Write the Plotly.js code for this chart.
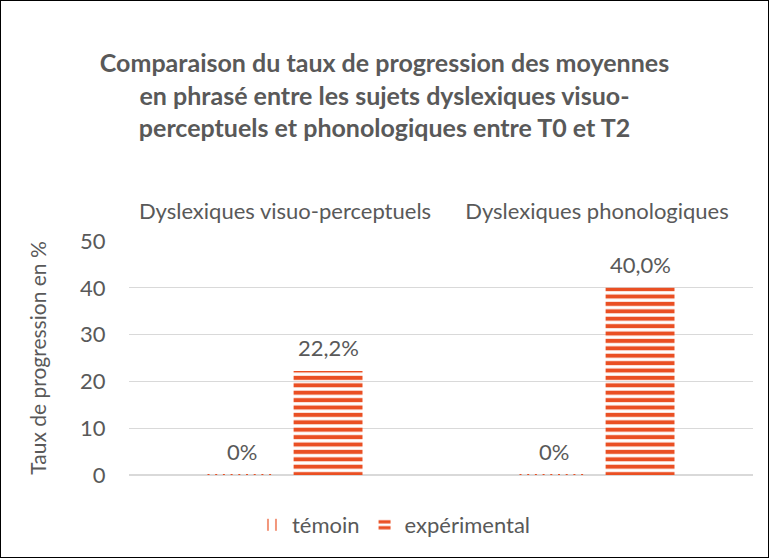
<!DOCTYPE html>
<html>
<head>
<meta charset="utf-8">
<script src="https://cdn.plot.ly/plotly-3.0.1.min.js"></script>
<style>
  html, body { margin: 0; padding: 0; background: #fff; }
  #frame { width: 769px; height: 558px; box-sizing: border-box; border: 1px solid #000; }
  #chart { width: 767px; height: 556px; }
</style>
</head>
<body>
<div id="frame"><div id="chart"></div></div>
<script>
// Groups shown along the top axis
const groups = ['Dyslexiques visuo-perceptuels', 'Dyslexiques phonologiques'];
// Series
const seriesNames = ['témoin', 'expérimental'];
const temoin = [0, 0];
const experimental = [22.2, 40.0];
// Value axis ticks
const yTicks = [0, 10, 20, 30, 40, 50];

const ORANGE = '#EA4F23';
const GREY = '#595959';
const FONT = 'Lato, "Open Sans", sans-serif';
const FS = 22;

// Bar geometry (category units)
const BARGAP = 0.448;
const BARGROUPGAP = 0.2;
const slot = (1 - BARGAP) / 2;
const barWidth = slot * (1 - BARGROUPGAP);
const offsets = [-slot / 2, slot / 2];

const fmt = v => v === 0 ? '0%' : v.toFixed(1).replace('.', ',') + '%';

const traces = [
  {
    type: 'bar', name: seriesNames[0], x: groups, y: temoin,
    marker: { color: ORANGE, pattern: { shape: '|', size: 20, solidity: 0.15 } },
    hoverinfo: 'skip'
  },
  {
    type: 'bar', name: seriesNames[1], x: groups, y: experimental,
    marker: { color: ORANGE, pattern: { shape: '-', size: 7.4, solidity: 0.55 } },
    hoverinfo: 'skip'
  }
];

// Zero-height témoin bars are shown as a dotted edge on the baseline
const shapes = temoin.map((v, i) => ({
  type: 'line', xref: 'x', yref: 'y',
  x0: i + offsets[0] - barWidth / 2, x1: i + offsets[0] + barWidth / 2,
  y0: v, y1: v,
  line: { color: ORANGE, width: 2, dash: '2px,5.7px' }
}));

// Value labels above each bar
const annotations = [];
[temoin, experimental].forEach((series, s) => {
  series.forEach((v, i) => {
    annotations.push({
      xref: 'x', yref: 'y', x: i + offsets[s], y: v,
      text: fmt(v), showarrow: false, yanchor: 'bottom', yshift: 8,
      font: { family: FONT, size: FS, color: GREY }
    });
  });
});

const layout = {
  width: 767, height: 556,
  paper_bgcolor: '#fff', plot_bgcolor: '#fff',
  margin: { l: 128, r: 15, t: 240, b: 82 },
  barmode: 'group', bargap: BARGAP, bargroupgap: BARGROUPGAP,
  font: { family: FONT, color: GREY },
  title: {
    text: 'Comparaison du taux de progression des moyennes<br>en phrasé entre les sujets dyslexiques visuo-<br>perceptuels et phonologiques entre T0 et T2',
    font: { family: FONT, size: 25, color: GREY, weight: 'bold' },
    x: 0.5, xanchor: 'center', xref: 'container',
    y: 1 - 71 / 556, yanchor: 'top', yref: 'container'
  },
  xaxis: {
    side: 'top', type: 'category',
    ticks: 'outside', ticklen: 12, tickcolor: 'rgba(0,0,0,0)',
    tickfont: { family: FONT, size: FS, color: GREY },
    showgrid: false, showline: false, zeroline: false, fixedrange: true
  },
  yaxis: {
    range: [0, 50], tickvals: yTicks,
    ticks: 'outside', ticklen: 18, tickcolor: 'rgba(0,0,0,0)',
    tickfont: { family: FONT, size: FS, color: GREY },
    gridcolor: '#D9D9D9', gridwidth: 1,
    zeroline: true, zerolinecolor: '#D9D9D9', zerolinewidth: 2,
    showline: false,
    automargin: true,
    title: { text: 'Taux de progression en %', standoff: 27, font: { family: FONT, size: 21, color: GREY } },
    fixedrange: true
  },
  showlegend: true,
  legend: {
    orientation: 'h', xref: 'container', yref: 'container',
    x: 394 / 769, xanchor: 'center', y: 1 - 524 / 556, yanchor: 'middle',
    font: { family: FONT, size: FS, color: GREY },
    traceorder: 'normal'
  },
  shapes: shapes,
  annotations: annotations
};

Plotly.newPlot('chart', traces, layout, { displayModeBar: false, staticPlot: true });
</script>
</body>
</html>
